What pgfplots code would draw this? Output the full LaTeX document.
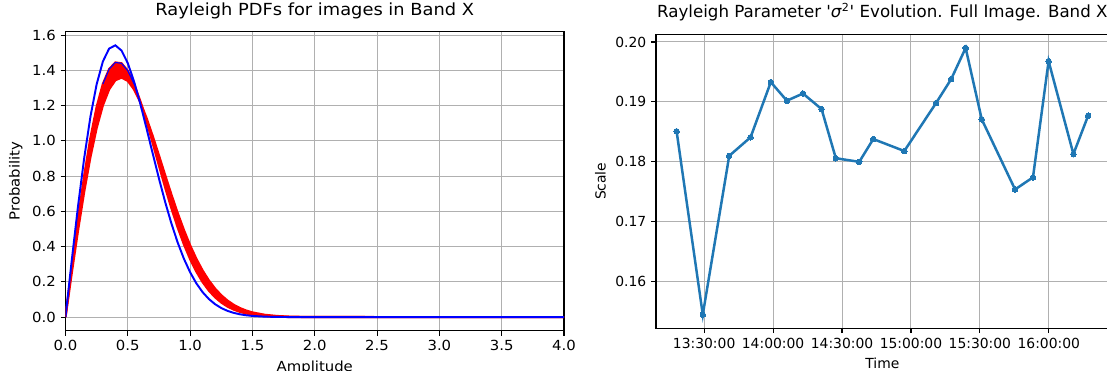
\documentclass[border=0pt]{standalone}
\usepackage{fontspec}
\setmainfont{DejaVu Sans}
\newfontfamily\leftfont{DejaVu Sans}[FakeStretch=1.07]
\usepackage{pgfplots}
\pgfplotsset{compat=1.18}
\usepgfplotslibrary{fillbetween}
\definecolor{mplblue}{HTML}{1F77B4}
\definecolor{gridgray}{HTML}{B0B0B0}

% Rayleigh pdf samples, sigma^2 = 0.1545 (blue), 0.1754 and 0.1990 (red band edges)
\pgfplotstableread{
x y
0.00 0
0.05 0.3210
0.10 0.6266
0.15 0.9027
0.20 1.1373
0.25 1.3218
0.30 1.4511
0.35 1.5240
0.40 1.5426
0.45 1.5125
0.50 1.4410
0.55 1.3374
0.60 1.2114
0.65 1.0720
0.70 0.9278
0.75 0.7862
0.80 0.6526
0.85 0.5310
0.90 0.4236
0.95 0.3315
1.00 0.2544
1.05 0.1917
1.10 0.1418
1.15 0.1030
1.20 0.0735
1.25 0.0515
1.30 0.0354
1.35 0.0240
1.40 0.0159
1.45 0.0104
1.50 0.0067
1.60 0.0026
1.70 0.0010
1.80 0.0003
1.90 0.0001
2.00 0.0000
2.50 0
3.00 0
3.50 0
4.00 0
}\curveB

\pgfplotstableread{
x y
0.00 0
0.05 0.2830
0.10 0.5541
0.15 0.8021
0.20 1.0174
0.25 1.1927
0.30 1.3233
0.35 1.4073
0.40 1.4453
0.45 1.4404
0.50 1.3978
0.55 1.3238
0.60 1.2258
0.65 1.1113
0.70 0.9873
0.75 0.8603
0.80 0.7358
0.85 0.6179
0.90 0.5098
0.95 0.4134
1.00 0.3296
1.05 0.2584
1.10 0.1992
1.15 0.1511
1.20 0.1128
1.25 0.0829
1.30 0.0599
1.35 0.0427
1.40 0.0299
1.45 0.0206
1.50 0.0140
1.60 0.0062
1.70 0.0026
1.80 0.0010
1.90 0.0004
2.00 0.0001
2.50 0
3.00 0
3.50 0
4.00 0
}\curveRa

\pgfplotstableread{
x y
0.00 0
0.05 0.2497
0.10 0.4900
0.15 0.7123
0.20 0.9089
0.25 1.0737
0.30 1.2024
0.35 1.2928
0.40 1.3447
0.45 1.3595
0.50 1.3407
0.55 1.2925
0.60 1.2203
0.65 1.1299
0.70 1.0270
0.75 0.9171
0.80 0.8052
0.85 0.6953
0.90 0.5909
0.95 0.4944
1.00 0.4073
1.05 0.3306
1.10 0.2644
1.15 0.2083
1.20 0.1618
1.25 0.1239
1.30 0.0935
1.35 0.0696
1.40 0.0511
1.45 0.0370
1.50 0.0264
1.60 0.0129
1.70 0.0060
1.80 0.0026
1.90 0.0011
2.00 0.0004
2.50 0
3.00 0
3.50 0
4.00 0
}\curveRb

\pgfplotstableread{
x y
0.30 1.3233
0.35 1.4073
0.40 1.4453
0.45 1.4404
0.50 1.3978
0.55 1.3238
}\curvePeak

% time in minutes after midnight, scale sigma^2
\pgfplotstableread{
t s
798.0 0.1851
809.4 0.1545
820.9 0.1810
830.2 0.1841
839.0 0.1933
846.0 0.1902
853.0 0.1914
861.1 0.1888
867.3 0.1806
877.5 0.1800
883.6 0.1838
897.1 0.1818
910.9 0.1898
917.5 0.1938
923.8 0.1990
930.8 0.1871
945.3 0.1754
953.1 0.1774
959.9 0.1968
970.7 0.1813
977.1 0.1877
}\scaledata

\pgfplotsset{
  mplstyle/.style={
    scale only axis,
    axis line style={line width=0.8pt, black},
    every tick/.style={black, line width=0.8pt},
    tick align=outside,
    tick pos=left,
    major tick length=3.5pt,
    grid=major,
    major grid style={line width=0.75pt, color=gridgray},
    /pgf/number format/assume math mode=true,
    title style={at={(0.5,1)}, anchor=base, yshift=6pt},
  }
}

\begin{document}
\begin{tikzpicture}
\begin{axis}[mplstyle,
  at={(47.16pt,-22.82pt)}, anchor=north west,
  width=358.92pt, height=215.28pt,
  xmin=0, xmax=4, ymin=-0.0771, ymax=1.62,
  xtick={0,0.5,1,1.5,2,2.5,3,3.5,4},
  ytick={0,0.2,0.4,0.6,0.8,1.0,1.2,1.4,1.6},
  xticklabel style={font=\leftfont\fontsize{10}{12}\selectfont, /pgf/number format/.cd, fixed, fixed zerofill, precision=1},
  yticklabel style={font=\leftfont\fontsize{10}{12}\selectfont, /pgf/number format/.cd, fixed, fixed zerofill, precision=1},
  title={Rayleigh PDFs for images in Band X},
  title style={font=\leftfont\fontsize{12}{14}\selectfont},
  xlabel={Amplitude},
  ylabel={Probability},
  label style={font=\leftfont\fontsize{10}{12}\selectfont},
]
\addplot[name path=A, red, line width=1.6pt] table[x=x,y=y] {\curveRa};
\addplot[name path=B, red, line width=1.6pt] table[x=x,y=y] {\curveRb};
\addplot[red] fill between[of=A and B];
\addplot[blue, line width=1.4pt] table[x=x,y=y] {\curveB};
\addplot[blue, line width=0.8pt] table[x=x,y=y] {\curvePeak};
\end{axis}

\begin{axis}[mplstyle,
  at={(472.32pt,-24.70pt)}, anchor=north west,
  width=325.94pt, height=211.68pt,
  xmin=789.04, xmax=986.06, ymin=0.15222, ymax=0.20128,
  xtick={810,840,870,900,930,960},
  xticklabels={13:30:00,14:00:00,14:30:00,15:00:00,15:30:00,16:00:00},
  ytick={0.16,0.17,0.18,0.19,0.20},
  scaled y ticks=false,
  tick label style={font=\fontsize{10}{12}\selectfont},
  yticklabel style={/pgf/number format/.cd, fixed, fixed zerofill, precision=2},
  title={Rayleigh Parameter \textquotesingle\textit{σ}\textsuperscript{2}\textquotesingle\ Evolution. Full Image. Band X},
  title style={font=\fontsize{12}{14}\selectfont},
  xlabel={Time},
  ylabel={Scale},
  label style={font=\fontsize{10}{12}\selectfont},
]
\addplot[mplblue, line width=1.8pt, mark=*, mark size=2pt, mark options={line width=0pt}] table[x=t,y=s] {\scaledata};
\end{axis}
\pgfresetboundingbox
\useasboundingbox (0,0) rectangle (797.04pt,-267.12pt);
\end{tikzpicture}
\end{document}
